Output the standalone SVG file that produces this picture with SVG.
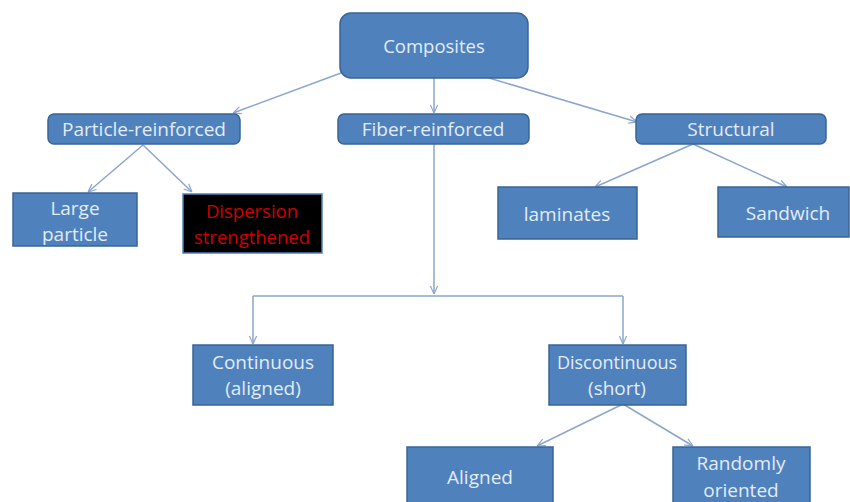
<svg xmlns="http://www.w3.org/2000/svg" width="850" height="502" viewBox="0 0 850 502">
<style>
.box{fill:#4f81bd;stroke:#3a6496;stroke-width:1.5}
.dark{fill:#000;stroke:#4f81bd;stroke-width:1.5}
.t{font-family:"Open Sans","Noto Sans",sans-serif;font-size:19px;fill:#e3ecf7;text-anchor:middle}
.r{fill:#d00000;font-size:18.5px}
.c{fill:none;stroke:#8aa6cc;stroke-width:1.5}
</style>
<defs>
<marker id="a" viewBox="0 0 10 10" refX="10" refY="5" markerWidth="9" markerHeight="9" orient="auto" markerUnits="userSpaceOnUse">
<path d="M1,1 L10,5 L1,9" fill="none" stroke="#8aa6cc" stroke-width="1.3"/>
</marker>
</defs>
<rect width="850" height="502" fill="#fff"/>
<g id="connectors">
<path class="c" d="M341,73 L233,113" marker-end="url(#a)"/>
<path class="c" d="M434,78 L434,113" marker-end="url(#a)"/>
<path class="c" d="M489,78 L637,122" marker-end="url(#a)"/>
<path class="c" d="M143,145 L88,192" marker-end="url(#a)"/>
<path class="c" d="M143,145 L192,192" marker-end="url(#a)"/>
<path class="c" d="M693,144 L595,187" marker-end="url(#a)"/>
<path class="c" d="M693,144 L787,187" marker-end="url(#a)"/>
<path class="c" d="M434,144 L434,294" marker-end="url(#a)"/>
<path class="c" d="M253,296 L623,296"/>
<path class="c" d="M253,296 L253,344" marker-end="url(#a)"/>
<path class="c" d="M623,296 L623,344" marker-end="url(#a)"/>
<path class="c" d="M623,404 L537,446" marker-end="url(#a)"/>
<path class="c" d="M623,404 L693,446" marker-end="url(#a)"/>
</g>
<g id="composites"><rect class="box" x="340" y="13" width="188" height="65" rx="11"/><text class="t" x="434" y="53" style="font-size:18.5px">Composites</text></g>
<g id="particle"><rect class="box" x="48" y="114" width="192" height="30" rx="6"/><text class="t" x="144" y="136">Particle-reinforced</text></g>
<g id="fiber"><rect class="box" x="338" y="114" width="191" height="30" rx="6"/><text class="t" x="433" y="136">Fiber-reinforced</text></g>
<g id="structural"><rect class="box" x="636" y="114" width="190" height="30" rx="6"/><text class="t" x="731" y="136">Structural</text></g>
<g id="large"><rect class="box" x="13" y="193" width="124" height="53"/><text class="t" x="75" y="215">Large</text><text class="t" x="75" y="241">particle</text></g>
<g id="dispersion"><rect class="dark" x="183" y="194" width="139" height="59"/><text class="t r" x="252" y="218">Dispersion</text><text class="t r" x="252" y="244">strengthened</text></g>
<g id="laminates"><rect class="box" x="498" y="187" width="139" height="52"/><text class="t" x="567" y="221">laminates</text></g>
<g id="sandwich"><rect class="box" x="718" y="187" width="131" height="50"/><text class="t" x="788" y="220">Sandwich</text></g>
<g id="continuous"><rect class="box" x="193" y="345" width="140" height="60"/><text class="t" x="263" y="369">Continuous</text><text class="t" x="263" y="395">(aligned)</text></g>
<g id="discontinuous"><rect class="box" x="549" y="345" width="137" height="60"/><text class="t" x="617" y="369" style="font-size:18px">Discontinuous</text><text class="t" x="617" y="395">(short)</text></g>
<g id="aligned"><rect class="box" x="407" y="447" width="146" height="60"/><text class="t" x="480" y="484">Aligned</text></g>
<g id="random"><rect class="box" x="673" y="447" width="137" height="60"/><text class="t" x="741" y="470">Randomly</text><text class="t" x="741" y="497">oriented</text></g>
</svg>
